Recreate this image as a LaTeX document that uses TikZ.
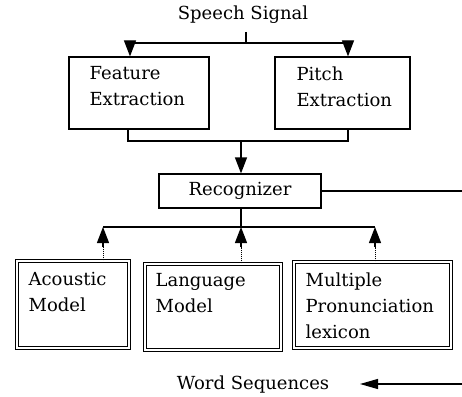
\documentclass[tikz,border=0pt]{standalone}
\usepackage{fontspec}
\setmainfont{DejaVu Serif}
\usetikzlibrary{arrows.meta}
\begin{document}
\begin{tikzpicture}[x=1pt,y=-1pt, line width=1.2pt,
  box/.style={draw, rectangle, inner sep=0},
  dbox/.style={draw, double, double distance=2pt, line width=0.9pt, inner sep=0},
  txt/.style={inner sep=0, align=left, anchor=north west, font=\fontsize{18}{26}\selectfont},
  lbl/.style={inner sep=0, font=\fontsize{18}{22}\selectfont},
  tip/.style={-{Triangle[width=12pt,length=16pt]}},
  dots/.style={line width=1pt, dash pattern=on 1pt off 1pt},
]
\useasboundingbox (0,0) rectangle (462,396);
% boxes
\node[box, minimum width=140pt, minimum height=72pt] (fe) at (139,93) {};
\node[box, minimum width=135pt, minimum height=72pt] (pe) at (342.5,93) {};
\node[box, minimum width=162pt, minimum height=34pt, font=\fontsize{18}{22}\selectfont] (rec) at (240,191) {Recognizer};
\node[dbox, minimum width=112.2pt, minimum height=87.2pt] (am) at (73,304.5) {};
\node[dbox, minimum width=136.2pt, minimum height=86.2pt] (lm) at (213,307) {};
\node[dbox, minimum width=157.2pt, minimum height=86.2pt] (mp) at (372.5,305) {};
% texts
\node[lbl] (sig) at (243,15) {Speech Signal};
\node[txt] (fet) at (89,66) {Feature\\Extraction};
\node[txt] (pet) at (296,66) {Pitch\\Extraction};
\node[txt] (amt) at (28,272) {Acoustic\\Model};
\node[txt] (lmt) at (155,273) {Language\\Model};
\node[txt] (mpt) at (305,272) {Multiple\\Pronunciation\\lexicon};
\node[lbl] (ws) at (253,385) {Word Sequences};
% coordinates
\coordinate (s0) at (246,32);
\coordinate (s1) at (246,43);
\coordinate (fa) at (130,43);
\coordinate (pa) at (348,43);
\coordinate (fb) at (128,141);
\coordinate (pb) at (348,141);
\coordinate (rb) at (241,141);
\coordinate (re) at (462,190);
\coordinate (m) at (241,227);
\coordinate (ml) at (103,227);
\coordinate (mr) at (375,227);
\coordinate (al) at (103,247);
\coordinate (ac) at (241,247);
\coordinate (ar) at (375,247);
\coordinate (wr) at (462,384);
\coordinate (wt) at (360,384);
% connectors
\draw (s0) -- (s1);
\draw (fa) -- (pa);
\draw[tip] (fa) -- (fa |- fe.north);
\draw[tip] (pa) -- (pa |- pe.north);
\draw (fb |- fe.south) -- (fb) -- (pb) -- (pb |- pe.south);
\draw[tip] (rb) -- (rb |- rec.north);
\draw (rec.east) -- (rec.east -| re);
\draw (rec.south -| m) -- (m);
\draw (ml) -- (mr);
\draw[dots] (am.north -| al) -- (al);
\draw[dots] (lm.north -| ac) -- (ac);
\draw[dots] (mp.north -| ar) -- (ar);
\draw[tip] (al) -- (ml);
\draw[tip] (ac) -- (m);
\draw[tip] (ar) -- (mr);
\draw[-{Triangle[width=10pt,length=18pt]}] (wr) -- (wt);
\end{tikzpicture}
\end{document}
